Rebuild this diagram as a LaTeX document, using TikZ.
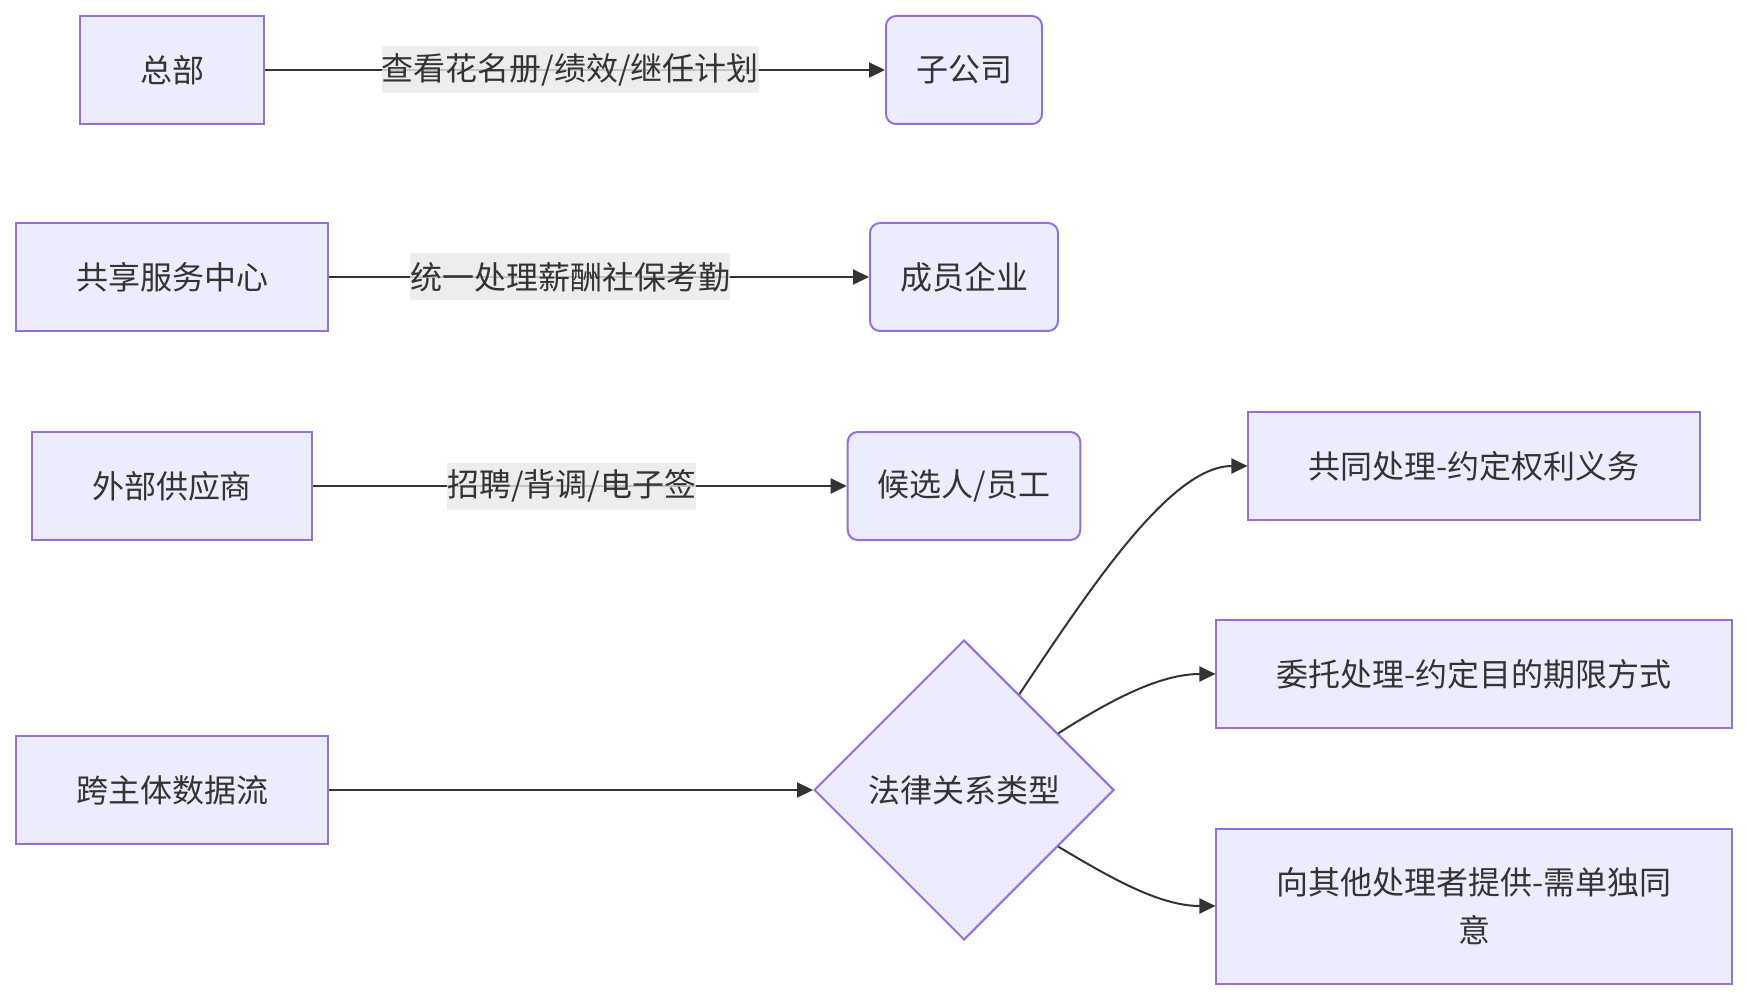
\documentclass[tikz,border=0pt]{standalone}
\usepackage{fontspec}
\setmainfont{Noto Sans CJK SC}
\usepackage{xcolor}
\usepackage{tikz}
\usetikzlibrary{shapes.geometric, positioning, arrows.meta}
\definecolor{MFill}{HTML}{ECECFF}
\definecolor{MLine}{HTML}{9370DB}
\definecolor{MText}{HTML}{333333}
\definecolor{MLabel}{HTML}{E8E8E8}

\begin{document}
\begin{tikzpicture}[x=1pt, y=-1pt,
      box/.style={rectangle, draw=MLine, fill=MFill, line width=2pt,
                  minimum height=108pt, inner xsep=60pt, inner ysep=0pt,
                  text=MText, font=\fontsize{32}{48}\selectfont, align=center},
      rbox/.style={box, rounded corners=10pt, inner xsep=30pt},
      decision/.style={diamond, aspect=1, draw=MLine, fill=MFill, line width=2pt,
                  minimum width=300pt, minimum height=300pt, inner sep=0pt,
                  text=MText, font=\fontsize{32}{48}\selectfont},
      elabel/.style={rectangle, fill=MLabel, fill opacity=0.8, text opacity=1,
                  inner sep=0pt, minimum height=47pt,
                  text=MText, font=\fontsize{32}{48}\selectfont},
      flow/.style={-{Triangle[length=16pt, width=15pt]}, line width=2pt, draw=MText}
    ]
    \useasboundingbox (0,0) rectangle (1749,1000);

    % Left column
    \node[box] (hq)     at (172, 70)  {总部};
    \node[box] (ssc)    at (172, 277) {共享服务中心};
    \node[box] (vendor) at (172, 486) {外部供应商};
    \node[box] (xflow)  at (172, 790) {跨主体数据流};

    % Middle column
    \node[rbox] (sub)    at (964, 70)  {子公司};
    \node[rbox] (member) at (964, 277) {成员企业};
    \node[rbox] (cand)   at (964, 486) {候选人/员工};
    \node[decision] (legal) at (964, 790) {法律关系类型};

    % Right column
    \node[box] (joint)   at (1474, 466) {共同处理-约定权利义务};
    \node[box] (entrust) at (1474, 674) {委托处理-约定目的期限方式};
    \node[box, minimum height=155pt] (provide) at (1474, 906)
          {向其他处理者提供-需单独同\\意};

    % Labelled edges
    \draw[flow] (hq) -- node[elabel, pos=0.492] {查看花名册/绩效/继任计划} (sub);
    \draw[flow] (ssc) -- node[elabel, pos=0.447] {统一处理薪酬社保考勤} (member);
    \draw[flow] (vendor) -- node[elabel, pos=0.485] {招聘/背调/电子签} (cand);

    % Decision branches
    \draw[flow] (xflow) -- (legal);
    \draw[flow] (legal.60) .. controls +(71,-106) and +(-77,0) .. (joint.west);
    \draw[flow] (legal.31) .. controls +(52,-33) and +(-56,0) .. (entrust.west);
    \draw[flow] (legal.-31) .. controls +(52,31) and +(-56,0) .. (provide.west);
  \end{tikzpicture}
\end{document}
